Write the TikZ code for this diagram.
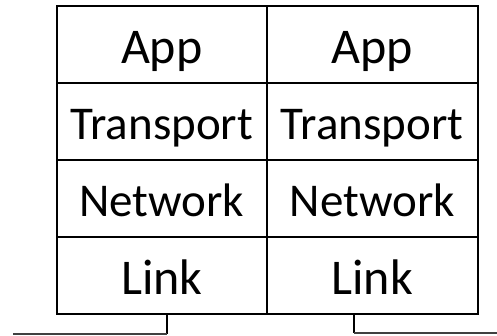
\documentclass[tikz,border=0pt]{standalone}
\usepackage{fontspec}
\setmainfont{Carlito}
\begin{document}
\begin{tikzpicture}[x=1pt,y=-1pt,
  cell/.style={draw=black,line width=2pt,minimum width=210.5pt,minimum height=77pt,inner sep=0pt,anchor=north west},
  big/.style={font=\fontsize{50}{60}\selectfont,text height=40pt,text depth=2pt},
  mid/.style={font=\fontsize{47}{56}\selectfont,text height=37pt,text depth=2pt},
  wire/.style={draw=black,line width=2pt},
  bus/.style={draw=black!75,line width=1.5pt}]
\useasboundingbox (0,0) rectangle (497,335);
\node[cell,big] (L1) at (55.5,5) {App};
\node[cell,mid] (L2) at (55.5,82) {Transport};
\node[cell,mid] (L3) at (55.5,159) {Network};
\node[cell,big] (L4) at (55.5,236) {Link};
\node[cell,big] (R1) at (266,5) {App};
\node[cell,mid] (R2) at (266,82) {Transport};
\node[cell,mid] (R3) at (266,159) {Network};
\node[cell,big] (R4) at (266,236) {Link};
\coordinate (lc) at (166.7,334);
\coordinate (lend) at (13,334);
\coordinate (rc) at (354.3,333);
\coordinate (rend) at (497,333);
\draw[wire] (L4.south -| lc) -- (lc);
\draw[bus] (lc) -- (lend);
\draw[wire] (R4.south -| rc) -- (rc);
\draw[bus] (rc) -- (rend);
\end{tikzpicture}
\end{document}
